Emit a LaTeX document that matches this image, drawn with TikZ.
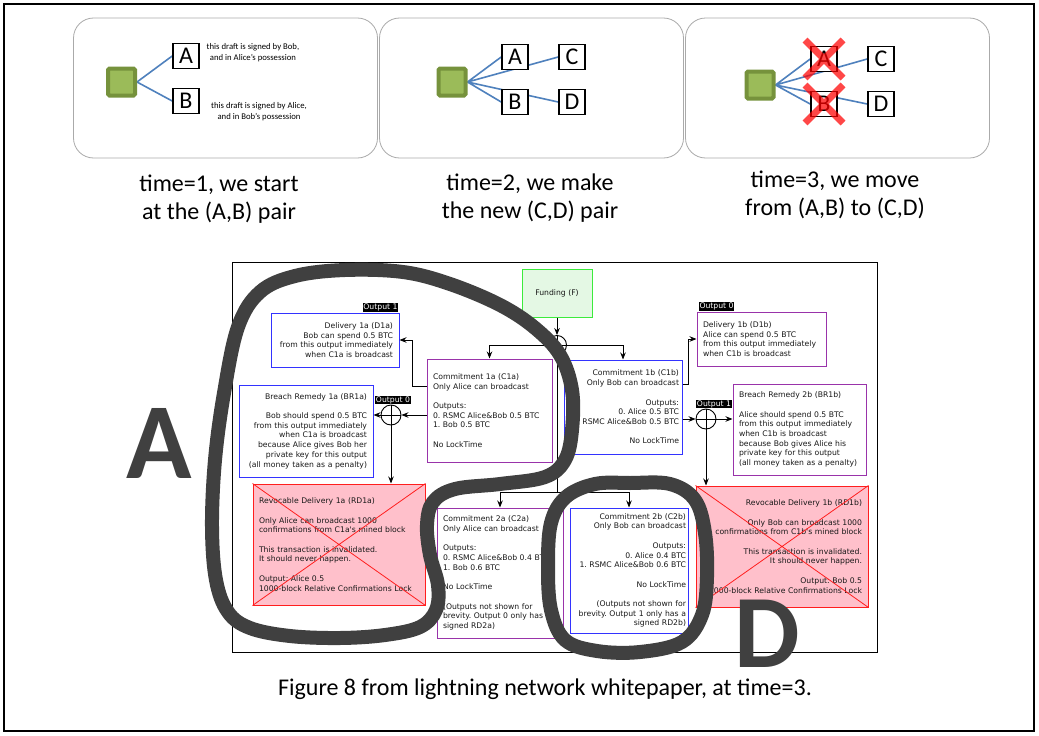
\documentclass[tikz,border=0pt]{standalone}
\usepackage{fontspec}
\setmainfont{Carlito}
\newfontfamily\gvsans{DejaVu Sans}
\usepackage{tikz}
\usetikzlibrary{arrows.meta}
\usetikzlibrary{calc,positioning,backgrounds}
\definecolor{gvblue}{RGB}{51,51,255}
\definecolor{gvpurple}{RGB}{153,51,170}
\definecolor{gvred}{RGB}{255,30,30}
\definecolor{gvpink}{RGB}{255,192,203}
\definecolor{gvgreen}{RGB}{60,235,60}
\definecolor{gvmint}{RGB}{228,248,228}
\definecolor{rootdark}{RGB}{118,146,60}
\definecolor{rootlight}{RGB}{155,187,89}
\definecolor{wireblue}{RGB}{79,129,189}
\definecolor{inkgray}{RGB}{64,64,64}
\definecolor{panelgray}{RGB}{170,170,170}
\newcommand{\gvsize}{\fontsize{7.7}{9.7}\selectfont}
\newcommand{\gvblank}{\\[9.7pt]}
\frenchspacing

\begin{document}
\begin{tikzpicture}[x=1pt, y=-1pt, >={Stealth[length=7pt,width=5.5pt]},
    panel/.style={draw=panelgray, line width=0.8pt, rounded corners=20pt, minimum width=304pt, minimum height=140pt},
    root/.style={draw=rootdark, fill=rootlight, line width=4pt, rounded corners=1.5pt, minimum size=27pt, inner sep=0pt},
    draftbox/.style={draw, line width=1.6pt, fill=white, minimum width=26pt, minimum height=25pt, inner sep=0pt, font=\fontsize{24}{24}\selectfont},
    wire/.style={draw=wireblue, line width=1.6pt},
    cancel/.style={draw=red, draw opacity=0.72, line width=7pt},
    note/.style={font=\fontsize{8.7}{11}\selectfont, align=center, inner sep=0pt},
    say/.style={font=\fontsize{24}{28.5}\selectfont, align=center, inner sep=0pt},
    tx/.style={draw, line width=1pt, fill=white, text=black!90, font=\gvsans\gvsize, inner xsep=6pt, inner ysep=0pt},
    tag/.style={fill=black, text=white, font=\gvsans\gvsize, inner xsep=0.8pt, inner ysep=0.6pt},
    hub/.style={circle, draw, line width=0.9pt, minimum size=20pt, inner sep=0pt,
        path picture={\draw[line width=0.9pt] (path picture bounding box.north) -- (path picture bounding box.south)
            (path picture bounding box.west) -- (path picture bounding box.east);}},
    link/.style={->, line width=0.9pt},
    scrawl/.style={draw=inkgray, line width=14pt, line join=round},
    bigletter/.style={text=inkgray, font=\bfseries\fontsize{#1}{#1}\selectfont, inner sep=0pt}]

    \begin{scope}[on background layer]
        \fill[white] (0,0) rectangle (1039,736);
    \end{scope}
    \useasboundingbox (0,0) rectangle (1039,736);
    \draw[line width=1.5pt] (4,4) rectangle (1034,731);

    % the three moments
    \node[panel] (P1) at (225.5,88) {};
    \node[panel] (P2) at (531.5,88) {};
    \node[panel] (P3) at (837.5,88) {};

    \node[root] (R1) at (121.5,82) {};
    \node[draftbox] (A1) at (186,56) {A};
    \node[draftbox] (B1) at (186,101) {B};
    \node[note] (nA) at (253,53) {this draft is signed by Bob,\\and in Alice’s possession};
    \node[note] (nB) at (259,112) {this draft is signed by Alice,\\and in Bob’s possession};

    \node[root] (R2) at (452,82) {};
    \node[draftbox] (A2) at (515,57) {A};
    \node[draftbox] (B2) at (515,102) {B};
    \node[draftbox] (C2) at (572,57) {C};
    \node[draftbox] (D2) at (572,102) {D};

    \node[root] (R3) at (760,85) {};
    \node[draftbox] (A3) at (824,59) {A};
    \node[draftbox] (B3) at (824,104) {B};
    \node[draftbox] (C3) at (881,59) {C};
    \node[draftbox] (D3) at (881,104) {D};

    \begin{scope}[on background layer]
        \draw[wire] (R1.east) -- (A1.west) (R1.east) -- (B1.west);
        \draw[wire] (R2.east) -- (A2.west) (R2.east) -- (C2.west) (R2.east) -- (B2.west) (R2.east) -- (D2.west);
        \draw[wire] (R3.east) -- (A3.west) (R3.east) -- (C3.west) (R3.east) -- (B3.west) (R3.east) -- (D3.west);
    \end{scope}

    \draw[cancel] (A3) ++(-19,-19) -- ++(38,38) ++(0,-38) -- ++(-38,38);
    \draw[cancel] (B3) ++(-19,-19) -- ++(38,38) ++(0,-38) -- ++(-38,38);

    \node[say] (t1) at (219,199) {time=1, we start\\at the (A,B) pair};
    \node[say] (t2) at (530,198) {time=2, we make\\the new (C,D) pair};
    \node[say] (t3) at (835,195) {time=3, we move\\from (A,B) to (C,D)};

    % figure 8
    \draw[line width=1pt] (232,262) rectangle (877,652);

    \node[tx, draw=gvgreen, fill=gvmint, minimum width=70pt, minimum height=48pt] (F) at (557,293) {Funding (F)};
    \node[hub, minimum size=19pt] (Fo) at (557,345) {};

    \node[tx, draw=gvpurple, text width=113pt, align=left, minimum height=103pt] (C1a) at (489.5,410.5)
        {Commitment 1a (C1a)\\Only Alice can broadcast\gvblank Outputs:\\0. RSMC Alice\&Bob 0.5 BTC\\1. Bob 0.5 BTC\gvblank No LockTime};
    \node[tx, draw=gvblue, inner xsep=3pt, text width=112pt, align=right, minimum height=94pt] (C1b) at (623,407)
        {Commitment 1b (C1b)\\Only Bob can broadcast\gvblank Outputs:\\0. Alice 0.5 BTC\\RSMC Alice\&Bob 0.5 BTC\gvblank No LockTime};

    \node[tx, draw=gvblue, text width=116pt, align=right, minimum height=54pt] (D1a) at (335,340)
        {Delivery 1a (D1a)\\Bob can spend 0.5 BTC\\from this output immediately\\when C1a is broadcast};
    \node[tag, above left=0.5pt and 1pt of D1a.north east] (T1a) {Output 1};

    \node[tx, draw=gvpurple, text width=117pt, align=left, minimum height=54pt] (D1b) at (761.5,339)
        {Delivery 1b (D1b)\\Alice can spend 0.5 BTC\\from this output immediately\\when C1b is broadcast};
    \node[tag, above right=0.5pt and 2pt of D1b.north west] (T0b) {Output 0};

    \node[tx, draw=gvblue, text width=122pt, align=right, minimum height=92pt] (BR1a) at (306,431)
        {Breach Remedy 1a (BR1a)\gvblank Bob should spend 0.5 BTC\\from this output immediately\\when C1a is broadcast\\because Alice gives Bob her\\private key for this output\\(all money taken as a penalty)};
    \node[tx, draw=gvpurple, text width=121pt, align=left, minimum height=91pt] (BR1b) at (799.5,429.5)
        {Breach Remedy 2b (BR1b)\gvblank Alice should spend 0.5 BTC\\from this output immediately\\when C1b is broadcast\\because Bob gives Alice his\\private key for this output\\(all money taken as a penalty)};

    \node[hub] (O0a) at (391,415) {};
    \node[tag, above=0pt of O0a, xshift=2pt] (T0a) {Output 0};
    \node[hub] (O1b) at (706,419) {};
    \node[tag, above=0pt of O1b, xshift=8pt] (T1b) {Output 1};

    \node[tx, draw=gvred, fill=gvpink, text width=160pt, align=left, minimum height=121pt] (RD1a) at (339,544.5)
        {Revocable Delivery 1a (RD1a)\gvblank Only Alice can broadcast 1000\\confirmations from C1a's mined block\gvblank This transaction is invalidated.\\It should never happen.\gvblank Output: Alice 0.5\\1000-block Relative Confirmations Lock};
    \node[tx, draw=gvred, fill=gvpink, text width=160pt, align=right, minimum height=121pt] (RD1b) at (782,546.5)
        {Revocable Delivery 1b (RD1b)\gvblank Only Bob can broadcast 1000\\confirmations from C1b's mined block\gvblank This transaction is invalidated.\\It should never happen.\gvblank Output: Bob 0.5\\1000-block Relative Confirmations Lock};
    \draw[gvred, line width=0.8pt] (RD1a.north west) -- (RD1a.south east) (RD1a.south west) -- (RD1a.north east);
    \draw[gvred, line width=0.8pt] (RD1b.north west) -- (RD1b.south east) (RD1b.south west) -- (RD1b.north east);

    \node[tx, draw=gvpurple, text width=114pt, align=left, minimum height=130pt] (C2a) at (500,573)
        {Commitment 2a (C2a)\\Only Alice can broadcast\gvblank Outputs:\\0. RSMC Alice\&Bob 0.4 BTC\\1. Bob 0.6 BTC\gvblank No LockTime\gvblank (Outputs not shown for\\brevity. Output 0 only has a\\signed RD2a)};
    \node[tx, draw=gvblue, inner xsep=2pt, text width=114pt, align=right, minimum height=125pt] (C2b) at (629,570.5)
        {Commitment 2b (C2b)\\Only Bob can broadcast\gvblank Outputs:\\0. Alice 0.4 BTC\\1. RSMC Alice\&Bob 0.6 BTC\gvblank No LockTime\gvblank (Outputs not shown for\\brevity. Output 1 only has a\\signed RD2b)};

    \coordinate (split) at (557,492);
    \draw[link] (F) -- (Fo);
    \draw[link] (Fo.west) -| (C1a);
    \draw[link] (Fo.east) -| (C1b);
    \draw[line width=0.9pt] (Fo.south) -- (split);
    \draw[link] (split) -| (C2a);
    \draw[link] (split) -| (C2b);

    \draw[link] ([yshift=24.5pt]C1a.west) -- ++(-14,0) |- (D1a);
    \draw[link] (O0a -| C1a.west) -- (O0a);
    \draw[link] (O0a) -- (O0a -| BR1a.east);
    \draw[link] (O0a) -- (O0a |- RD1a.north);

    \draw[link] ([yshift=23pt]C1b.east) -- ++(6,0) |- (D1b);
    \draw[link] (O1b -| C1b.east) -- (O1b);
    \draw[link] (O1b) -- (O1b -| BR1b.west);
    \draw[link] (O1b) -- (O1b |- RD1b.north);

    % pen marks
    \draw[scrawl] plot[smooth cycle, tension=0.6] coordinates {
        (345,270) (403,272) (450,284) (500,305) (535,328) (560,355) (572,390) (572,430)
        (565,460) (545,477) (500,484) (455,489) (433,502) (427,525) (430,555) (438,585)
        (436,610) (420,627) (385,635) (340,638) (290,636) (250,628) (228,612) (216,580)
        (212,527) (215,460) (224,393) (238,327) (260,292) (295,276)};
    \draw[scrawl] plot[smooth cycle, tension=0.6] coordinates {
        (630,483) (670,484) (695,500) (705,533) (707,577) (702,615) (682,642) (640,652)
        (597,651) (565,640) (551,610) (548,567) (551,523) (566,497) (595,484)};
    \node[bigletter=108, anchor=base] (LA) at (159,478) {A};
    \node[bigletter=104, anchor=base] (LD) at (767,667) {D};

    \node[say] (cap) at (545,689) {Figure 8 from lightning network whitepaper, at time=3.};

\end{tikzpicture}
\end{document}
